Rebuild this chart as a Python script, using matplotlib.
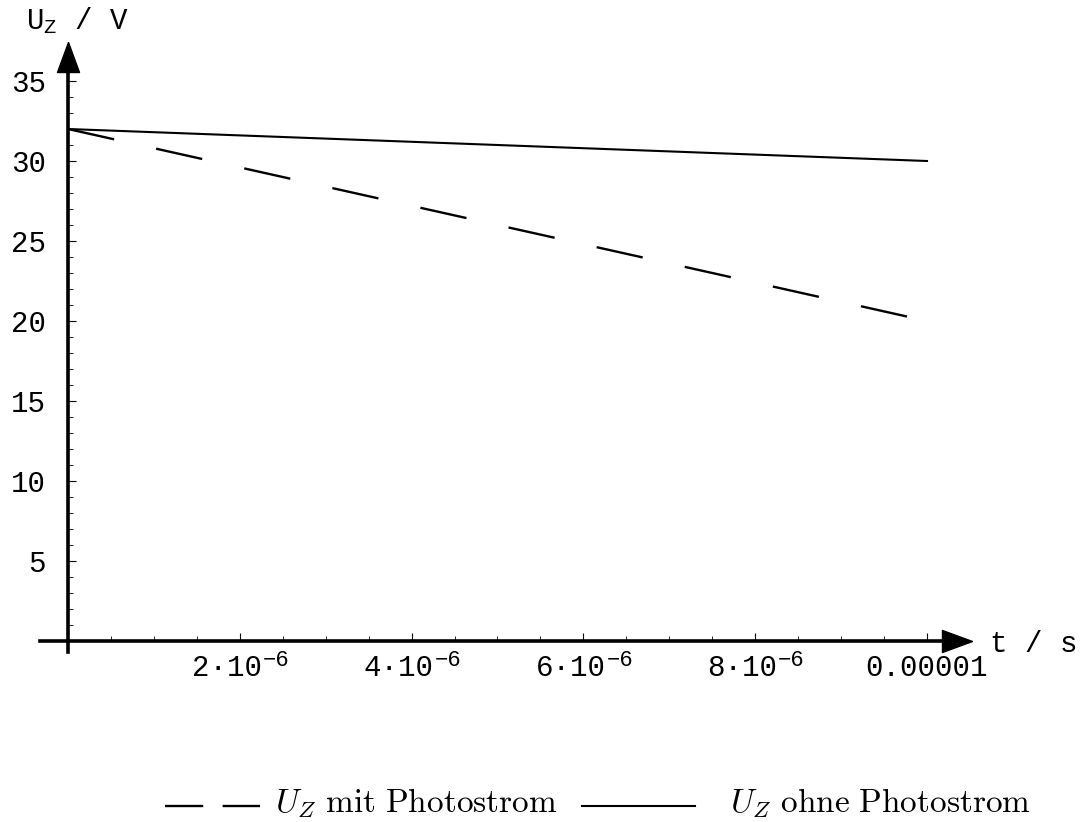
import numpy as np
import matplotlib
matplotlib.use('Agg')
import matplotlib.pyplot as plt
from matplotlib.ticker import FixedLocator, NullFormatter
from matplotlib.lines import Line2D
from matplotlib.path import Path

plt.rcParams.update({
    "mathtext.fontset": "custom",
    "mathtext.rm": "Liberation Mono",
    "mathtext.it": "Liberation Mono",
    "font.family": ["Liberation Mono", "DejaVu Sans Mono"],
    "lines.scale_dashes": False,
})

# data
t = [0, 2e-6, 4e-6, 6e-6, 8e-6, 1e-5]
u_mit = [32.0, 29.6, 27.2, 24.8, 22.4, 20.0]
u_ohne = [32.0, 31.6, 31.2, 30.8, 30.4, 30.0]
labels = [r"$U_Z\ \mathrm{mit\ Photostrom}$", r"$U_Z\ \mathrm{ohne\ Photostrom}$"]
xticks = [2e-6, 4e-6, 6e-6, 8e-6, 1e-5]
xbase = ["2·10", "4·10", "6·10", "8·10", "0.00001"]
xexp = ["−6", "−6", "−6", "−6", ""]
yticks = [5, 10, 15, 20, 25, 30, 35]

W, H = 1084, 822
x0, y0 = 68, 641          # pixel of origin
sx = 859 / 1e-5            # px per second
sy = 16.0                  # px per volt
FS = 21
PT = 0.72                  # points per pixel at dpi 100

fig = plt.figure(figsize=(W / 100, H / 100), dpi=100)
ax = fig.add_axes([0, 0, 1, 1])
ax.set_xlim(-x0 / sx, (W - x0) / sx)
ax.set_ylim(-(H - y0) / sy, y0 / sy)

l1, = ax.plot(t, u_mit, color="black", lw=1.7, dashes=(34, 31))
l2, = ax.plot(t, u_ohne, color="black", lw=1.5)

for s in ["top", "right"]:
    ax.spines[s].set_visible(False)
ax.spines["left"].set_position(("data", 0))
ax.spines["bottom"].set_position(("data", 0))
ax.spines["left"].set_bounds(-11 / sy, (641 - 70) / sy)
ax.spines["bottom"].set_bounds(-28 / sx, (945 - x0) / sx)
ax.spines["left"].set_linewidth(2.6)
ax.spines["bottom"].set_linewidth(2.6)

ax.xaxis.set_major_locator(FixedLocator(xticks))
ax.xaxis.set_major_formatter(NullFormatter())
ax.xaxis.set_minor_locator(FixedLocator(np.arange(1, 20) * 0.5e-6))
ax.yaxis.set_major_locator(FixedLocator(yticks))
ax.yaxis.set_minor_locator(FixedLocator(np.arange(1, 36)))
ax.yaxis.set_minor_formatter(NullFormatter())
ax.xaxis.set_minor_formatter(NullFormatter())
ax.tick_params(axis="both", which="major", direction="in", length=5.5,
               width=0.8, labelsize=FS)
ax.tick_params(axis="both", which="minor", direction="in", length=3.5,
               width=0.6)
ax.tick_params(axis="y", which="major", pad=16)

# x tick labels: mantissa plus raised exponent
for xv, b, e in zip(xticks, xbase, xexp):
    if e:
        ax.annotate(b, (xv, 0), xytext=(22 * PT, -13 * PT),
                    textcoords="offset points", ha="right", va="top", fontsize=FS)
        ax.annotate(e, (xv, 0), xytext=(23 * PT, -9 * PT),
                    textcoords="offset points", ha="left", va="top", fontsize=16)
    else:
        ax.annotate(b, (xv, 0), xytext=(0, -13 * PT),
                    textcoords="offset points", ha="center", va="top", fontsize=FS)

# arrowheads
arr_x = Path([(15, 0), (-15, 11), (-15, -11), (15, 0)])
arr_y = Path([(0, 15), (-11, -15), (11, -15), (0, 15)])
ax.plot([(957 - x0) / sx], [0], marker=arr_x, ms=21.6, color="black",
        clip_on=False)
ax.plot([0], [(641 - 57) / sy], marker=arr_y, ms=21.6, color="black",
        clip_on=False)

fig.text(26 / W, 1 - 21 / H, r"U$_\mathrm{Z}$ / V", fontsize=FS,
         ha="left", va="center")
fig.text(990 / W, 1 - 644 / H, "t / s", fontsize=FS, ha="left", va="center")

# legend row at the bottom
ly = 1 - 806 / H
fig.add_artist(Line2D([165 / W, 260 / W], [ly, ly], transform=fig.transFigure,
                      color="black", lw=1.7, dashes=(27.5, 14)))
fig.add_artist(Line2D([582 / W, 695 / W], [ly, ly], transform=fig.transFigure,
                      color="black", lw=1.5))
for xp, lab in zip([275, 730], labels):
    txt = fig.text(xp / W, 1 - 812 / H, lab, fontsize=24, ha="left",
                   va="baseline")
    txt.set_math_fontfamily("cm")

fig.savefig("out.png", dpi=100)
